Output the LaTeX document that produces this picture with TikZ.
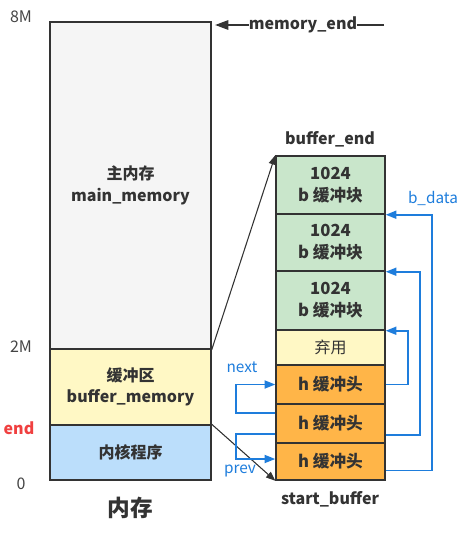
\documentclass[tikz,border=0pt]{standalone}
\usepackage{fontspec}
\setmainfont{Noto Sans CJK SC}
\usetikzlibrary{arrows.meta,calc}
\definecolor{txt}{HTML}{333333}
\definecolor{lbl}{HTML}{444444}
\definecolor{graybox}{HTML}{F5F5F5}
\definecolor{yelbox}{HTML}{FFF8C5}
\definecolor{bluebox}{HTML}{BBDEFB}
\definecolor{greenbox}{HTML}{C9E6CB}
\definecolor{orangebox}{HTML}{FFB548}
\definecolor{linkblue}{HTML}{1E7DDC}
\definecolor{endred}{HTML}{F04040}
\tikzset{
  membox/.style={draw=txt, line width=1.1pt, inner sep=0pt, align=center, text=txt, font=\bfseries\fontsize{12}{16}\selectfont, minimum width=120.75pt},
  bufbox/.style={draw=txt, line width=1.1pt, inner sep=0pt, align=center, text=txt, font=\bfseries\fontsize{12.5}{16.5}\selectfont, minimum width=81.75pt},
  axislbl/.style={text=lbl, font=\fontsize{12}{14}\selectfont, inner sep=0pt},
  boldlbl/.style={text=txt, font=\bfseries\fontsize{12}{14}\selectfont, inner sep=0pt},
  bluelbl/.style={text=linkblue, font=\fontsize{11.5}{14}\selectfont, inner sep=0pt},
  blackarrow/.style={draw=txt, line width=0.8pt, -{Triangle[length=7pt,width=5.5pt]}},
  bluearrow/.style={draw=linkblue, line width=1.3pt, -{Triangle[length=8pt,width=6pt]}},
}
\begin{document}
\begin{tikzpicture}[x=0.75pt,y=-0.75pt]
\useasboundingbox (0,0) rectangle (470,539);
% left column
\node[membox, fill=graybox, minimum height=245.25pt] (main) at (130.5,185.5) {主内存\\main\_memory};
\node[membox, fill=yelbox, minimum height=57pt] (bufmem) at (130.5,387) {缓冲区\\buffer\_memory};
\node[membox, fill=bluebox, minimum height=41.25pt] (kernel) at (130.5,452.5) {内核程序};
% axis labels
\node[axislbl] (l8m) at (21,17) {8M};
\node[axislbl] (l2m) at (21,347) {2M};
\node[inner sep=0pt, text=endred, font=\bfseries\fontsize{12}{14}\selectfont] (lend) at (19,428) {end};
\node[axislbl] (l0) at (21,484) {0};
\node[text=txt, font=\bfseries\fontsize{17}{20}\selectfont, inner sep=0pt] (title) at (130,508) {内存};
% memory_end
\node[boldlbl] (memend) at (303,25) {memory\_end};
\coordinate (meR) at (384,25);
\coordinate (meL) at (215,25);
\draw[txt, line width=1.5pt] (meR) -- (memend.east);
\draw[txt, line width=1.5pt, -{Triangle[length=10pt,width=7pt]}] (memend.west) -- (meL);
% right column
\node[bufbox, fill=greenbox, minimum height=43.5pt] (g1) at (330.5,185) {1024\\b 缓冲块};
\node[bufbox, fill=greenbox, minimum height=42.75pt] (g2) at (330.5,242.5) {1024\\b 缓冲块};
\node[bufbox, fill=greenbox, minimum height=44.25pt] (g3) at (330.5,300.5) {1024\\b 缓冲块};
\node[bufbox, fill=yelbox, minimum height=26.25pt, font=\fontsize{12}{16}\selectfont] (waste) at (330.5,347.5) {弃用};
\node[bufbox, fill=orangebox, minimum height=29.25pt] (h1) at (330.5,384.5) {h 缓冲头};
\node[bufbox, fill=orangebox, minimum height=29.25pt] (h2) at (330.5,423.5) {h 缓冲头};
\node[bufbox, fill=orangebox, minimum height=27.75pt] (h3) at (330.5,461.5) {h 缓冲头};
\node[boldlbl] (bufend) at (330,139) {buffer\_end};
\node[boldlbl] (startbuf) at (330,499) {start\_buffer};
% black arrows
\draw[blackarrow] (main.south east) -- (g1.north west);
\draw[blackarrow] (kernel.north east) -- (h3.south west);
% b_data arrows
\draw[bluearrow] (h1.east) -- ++(22,0) |- (g3.south east);
\draw[bluearrow] ($(h2.east)+(0,11.5)$) -- ++(34,0) |- (g2.south east);
\draw[bluearrow] ($(h3.east)+(0,9)$) -- ++(46,0) |- (g1.south east);
\node[bluelbl] (bdata) at (433,198) {b\_data};
% next / prev
\draw[bluearrow] ($(h2.west)+(0,-10.5)$) -- ++(-39,0) |- (h1.west);
\draw[bluearrow] ($(h2.west)+(0,10.5)$) -- ++(-39,0) |- ($(h3.west)+(0,-2.5)$);
\node[bluelbl] (lnext) at (242,367) {next};
\node[bluelbl] (lprev) at (240,471) {prev};
\end{tikzpicture}
\end{document}
